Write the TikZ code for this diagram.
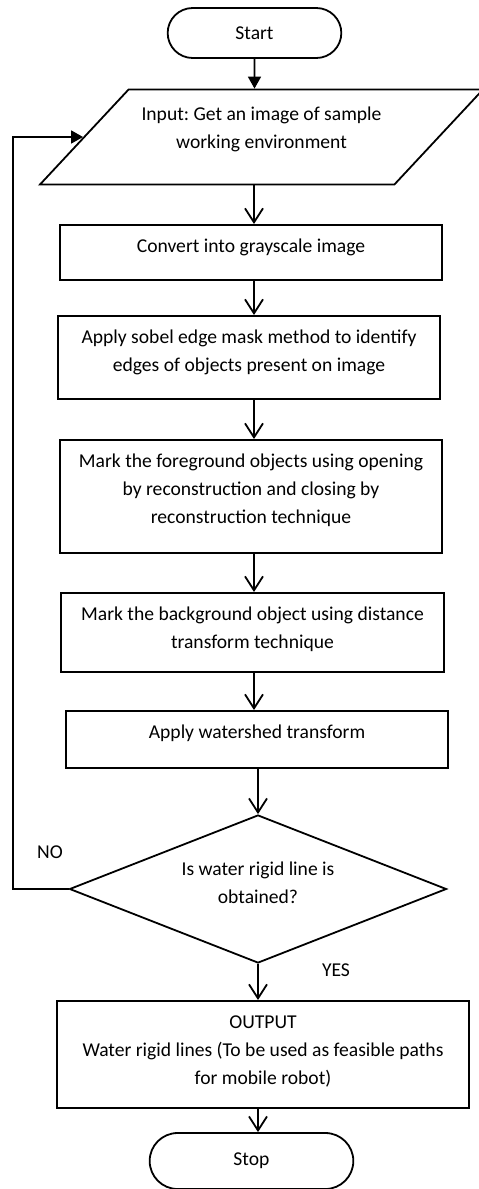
\documentclass[tikz,border=0pt]{standalone}
\usepackage{fontspec}
\setmainfont{Carlito}
\frenchspacing
\usetikzlibrary{shapes.geometric,shapes.misc}
\usetikzlibrary{calc,arrows.meta}

\begin{document}
\begin{tikzpicture}[x=0.5pt,y=0.5pt,line width=0.9pt,
  font=\fontsize{9.8pt}{13.8pt}\selectfont,
  term/.style={rounded rectangle, draw},
  inbox/.style={trapezium, trapezium left angle=47, trapezium right angle=133,
    trapezium stretches body, draw, align=center, minimum width=221.5pt,
    inner ysep=5.5pt, text height=23.8pt, text depth=12.7pt},
  procbox/.style n args={2}{draw, align=center, anchor=north, minimum width=191pt,
    inner ysep=4pt, text height=#1, text depth=#2},
  decision/.style={diamond, draw, align=center, aspect=2.5,
    minimum width=188.5pt, minimum height=74pt, inner sep=1pt,
    text height=21pt, text depth=6.5pt},
  arr/.style={-{Straight Barb[length=7pt,width=9pt]}},
  farr/.style={-{Triangle[length=6pt,width=6.5pt]}}]

  % page size
  \useasboundingbox (0,0) rectangle (478,-1189);

  % the main flow line
  \coordinate (spine) at (254,0);

  % Start and input
  \node[term, minimum width=93.5pt, minimum height=25pt] (start) at (254.5,-33) {Start};
  \node[inbox] (input) at (261.5,-137) {Input: Get an image of sample\\working environment};

  % processing steps (text height/depth set the height of each box)
  \node[procbox={10pt}{9.5pt}] (gray) at (251,-224) {Convert into grayscale image};
  \node[procbox={23.8pt}{9.7pt}] (sobel) at (249,-315) {Apply sobel edge mask method to identify\\edges of objects present on image};
  \node[procbox={37.6pt}{10.9pt}] (fore) at (251,-439) {Mark the foreground objects using opening\\by reconstruction and closing by\\reconstruction technique};
  \node[procbox={23.8pt}{7.7pt}, minimum width=191.5pt] (back) at (252.5,-592) {Mark the background object using distance\\transform technique};
  \node[procbox={10pt}{10.5pt}] (wshed) at (257,-710) {Apply watershed transform};

  % decision, output and stop
  \node[decision] (check) at (258,-889) {Is water rigid line is\\obtained?};
  \node[procbox={37.6pt}{7.9pt}, minimum width=206pt] (output) at (263,-1000) {OUTPUT\\Water rigid lines (To be used as feasible paths\\for mobile robot)};
  \node[term, minimum width=108.5pt, minimum height=28pt] (stop) at (251.5,-1161) {Stop};

  \node (no) at (50,-852) {NO};
  \node (yes) at (336,-970) {YES};

  % arrows
  \draw[farr] (start) -- (start |- input.north);
  \draw[arr] (input.south -| spine) -- (gray.north -| spine);
  \draw[arr] (gray.south -| spine) -- (sobel.north -| spine);
  \draw[arr] (sobel.south -| spine) -- (fore.north -| spine);
  \draw[arr] (fore.south -| spine) -- (back.north -| spine);
  \draw[arr] (back.south -| spine) -- (wshed.north -| spine);
  \draw[arr] (wshed.south -| check) -- (check.north);
  \draw[arr] (check.south) -- (check.south |- output.north);
  \draw[arr] (output.south -| check) -- (stop.north -| check);

  % loop back when no line is found
  \draw[farr] (check.west) -- ++(-56,0) |- (input);

\end{tikzpicture}
\end{document}
